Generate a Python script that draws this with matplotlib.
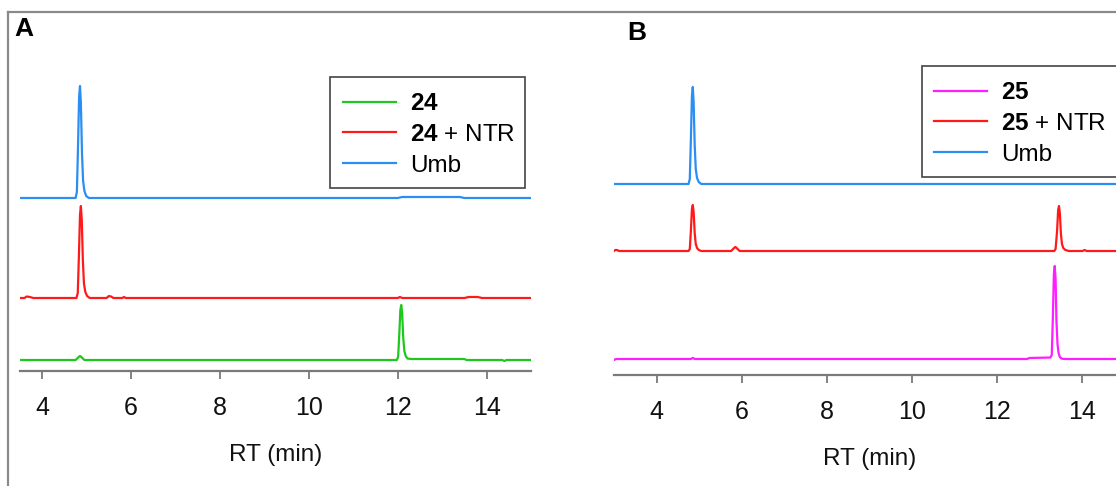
import matplotlib
matplotlib.use("Agg")
import matplotlib.pyplot as plt
from matplotlib.lines import Line2D
from matplotlib.patches import Rectangle

plt.rcParams["font.family"] = ["Liberation Sans", "DejaVu Sans"]
plt.rcParams["mathtext.fontset"] = "custom"
plt.rcParams["mathtext.rm"] = "Liberation Sans"
plt.rcParams["mathtext.bf"] = "Liberation Sans:bold"

# ---------------- Panel A: compound 24 ----------------
umb_a_rt = [3.5, 4.75, 4.78, 4.805, 4.83, 4.85, 4.87, 4.895, 4.92, 4.95, 4.99, 5.05,
            12.0, 12.1, 13.4, 13.5, 15.0]
umb_a_sig = [0, 0, 6, 50, 101, 112, 95, 45, 17, 7, 2, 0,
             0, 1, 1, 0, 0]

ntr24_rt = [3.5, 3.6, 3.65, 3.72, 3.8, 4.77, 4.8, 4.825, 4.85, 4.87, 4.89, 4.915,
            4.94, 4.97, 5.01, 5.07, 5.45, 5.5, 5.55, 5.6, 5.8, 5.84, 5.88,
            12.0, 12.05, 12.1, 13.5, 13.6, 13.8, 13.9, 15.0]
ntr24_sig = [0, 0, 1.5, 1, 0, 0, 5, 41, 83, 92, 78, 37,
             14, 6, 2, 0, 0, 2, 1.5, 0, 0, 1, 0,
             0, 1, 0, 0, 1, 1, 0, 0]

c24_rt = [3.5, 4.75, 4.82, 4.85, 4.88, 4.95, 11.98, 12.01, 12.035, 12.06, 12.08,
          12.10, 12.125, 12.15, 12.18, 12.22, 12.3, 13.5, 13.55, 14.35, 14.4, 14.45, 15.0]
c24_sig = [0, 0, 3, 4, 3, 0, 0, 3, 25, 50, 55,
           47, 22, 9, 4, 1.5, 1, 1, 0, 0, -1, 0, 0]

# ---------------- Panel B: compound 25 ----------------
umb_b_rt = [3.0, 4.75, 4.78, 4.805, 4.83, 4.85, 4.87, 4.895, 4.92, 4.95, 4.99, 5.05, 15.0]
umb_b_sig = [0, 0, 5, 44, 88, 97, 82, 39, 15, 6, 2, 0, 0]

ntr25_rt = [3.0, 3.03, 3.07, 3.12, 4.75, 4.78, 4.805, 4.83, 4.85, 4.87, 4.895, 4.92,
            4.95, 4.99, 5.05, 5.75, 5.82, 5.85, 5.88, 5.95,
            13.34, 13.37, 13.405, 13.43, 13.45, 13.47, 13.495, 13.52, 13.55, 13.6,
            13.68, 14.0, 14.05, 14.1, 15.0]
ntr25_sig = [0, 1, 1, 0, 0, 2, 20, 42, 46, 39, 18, 7,
             3, 1, 0, 0, 3, 4, 3, 0,
             0, 2, 20, 41, 45, 38, 17, 7, 3, 1,
             0, 0, 1, 0, 0]

c25_rt = [3.0, 3.05, 4.8, 4.85, 4.9, 12.7, 12.75, 13.25, 13.28, 13.305, 13.33, 13.35,
          13.37, 13.39, 13.415, 13.44, 13.47, 13.51, 13.57, 15.0]
c25_sig = [-1, 0, 0, 1, 0, 0, 1, 1.5, 4, 40, 85, 93,
           80, 38, 15, 6, 2, 0.5, 0, 0]

tick_values = [4, 6, 8, 10, 12, 14]
xlabel = "RT (min)"

GREEN = "#1ec81e"
RED = "#ff1a1a"
BLUE = "#2a8ef2"
MAGENTA = "#ff1eff"
AXIS_GRAY = "#7a7a7a"
LW = 1.6

W, H = 1116, 486
fig = plt.figure(figsize=(W / 100, H / 100), dpi=100)
fig.patch.set_facecolor("white")


def frac_box(x0, x1, y_top, y_bot):
    return [x0 / W, 1 - y_bot / H, (x1 - x0) / W, (y_bot - y_top) / H]


def style_axis(ax, xlim, ylim):
    ax.set_xlim(*xlim)
    ax.set_ylim(*ylim)
    for side in ("top", "right", "left"):
        ax.spines[side].set_visible(False)
    ax.spines["bottom"].set_color(AXIS_GRAY)
    ax.spines["bottom"].set_linewidth(1.6)
    ax.set_yticks([])
    ax.set_xticks(tick_values)
    ax.tick_params(axis="x", direction="out", length=6, width=1.3,
                   color=AXIS_GRAY, labelsize=18, pad=12, labelcolor="#111111")
    ax.set_facecolor("none")
    ax.set_xlabel(xlabel, fontsize=17.5, labelpad=17, color="#111111")


# Panel A
axA = fig.add_axes(frac_box(20, 531, 60, 371))
style_axis(axA, (3.5, 15.0), (0, 311))
offA = {"c24": 11, "ntr": 73, "umb": 173}
axA.plot(umb_a_rt, [v + offA["umb"] for v in umb_a_sig], color=BLUE, lw=LW)
axA.plot(ntr24_rt, [v + offA["ntr"] for v in ntr24_sig], color=RED, lw=LW)
axA.plot(c24_rt, [v + offA["c24"] for v in c24_sig], color=GREEN, lw=LW)

# Panel B
axB = fig.add_axes(frac_box(614, 1125, 60, 375))
style_axis(axB, (3.0, 15.0), (0, 315))
offB = {"c25": 16, "ntr": 124, "umb": 191}
axB.plot(umb_b_rt, [v + offB["umb"] for v in umb_b_sig], color=BLUE, lw=LW)
axB.plot(ntr25_rt, [v + offB["ntr"] for v in ntr25_sig], color=RED, lw=LW)
axB.plot(c25_rt, [v + offB["c25"] for v in c25_sig], color=MAGENTA, lw=LW)


def add_legend(ax, colors, labels, box_px, entry_px):
    """box_px: (x0, y0, x1, y1) of the legend frame; entry_px: (x, y) of first entry top-left."""
    x0, y0, x1, y1 = box_px
    ax.add_patch(Rectangle((x0 / W, 1 - y1 / H), (x1 - x0) / W, (y1 - y0) / H,
                           transform=fig.transFigure, facecolor="white",
                           edgecolor="#444444", linewidth=1.2, zorder=4,
                           clip_on=False))
    handles = [Line2D([], [], color=c, lw=LW) for c in colors]
    leg = ax.legend(handles, labels, loc="upper left",
                    bbox_to_anchor=(entry_px[0] / W, 1 - entry_px[1] / H),
                    bbox_transform=fig.transFigure,
                    fontsize=17.5, frameon=False,
                    handlelength=2.2, handletextpad=0.55, labelspacing=0.36,
                    borderpad=0.0, borderaxespad=0.0)
    leg.set_zorder(6)
    return leg


add_legend(axA, [GREEN, RED, BLUE],
           [r"$\mathbf{24}$", r"$\mathbf{24}$ + NTR", "Umb"],
           (330, 77, 525, 188), (343, 93))
add_legend(axB, [MAGENTA, RED, BLUE],
           [r"$\mathbf{25}$", r"$\mathbf{25}$ + NTR", "Umb"],
           (922, 66, 1130, 177), (934, 82))

# Panel letters
fig.text(14 / W, 1 - 29 / H, "A", fontsize=19, fontweight="bold", va="center", ha="left")
fig.text(627 / W, 1 - 33 / H, "B", fontsize=19, fontweight="bold", va="center", ha="left")

# Outer frame: top rule across the figure and left rule of panel A
fig.add_artist(Line2D([8 / W, 1.0], [1 - 12 / H, 1 - 12 / H], transform=fig.transFigure,
                      color="#8a8a8a", lw=1.6))
fig.add_artist(Line2D([8 / W, 8 / W], [1 - 12 / H, 0.0], transform=fig.transFigure,
                      color="#8a8a8a", lw=1.6))

fig.savefig("out.png", dpi=100, facecolor="white")
